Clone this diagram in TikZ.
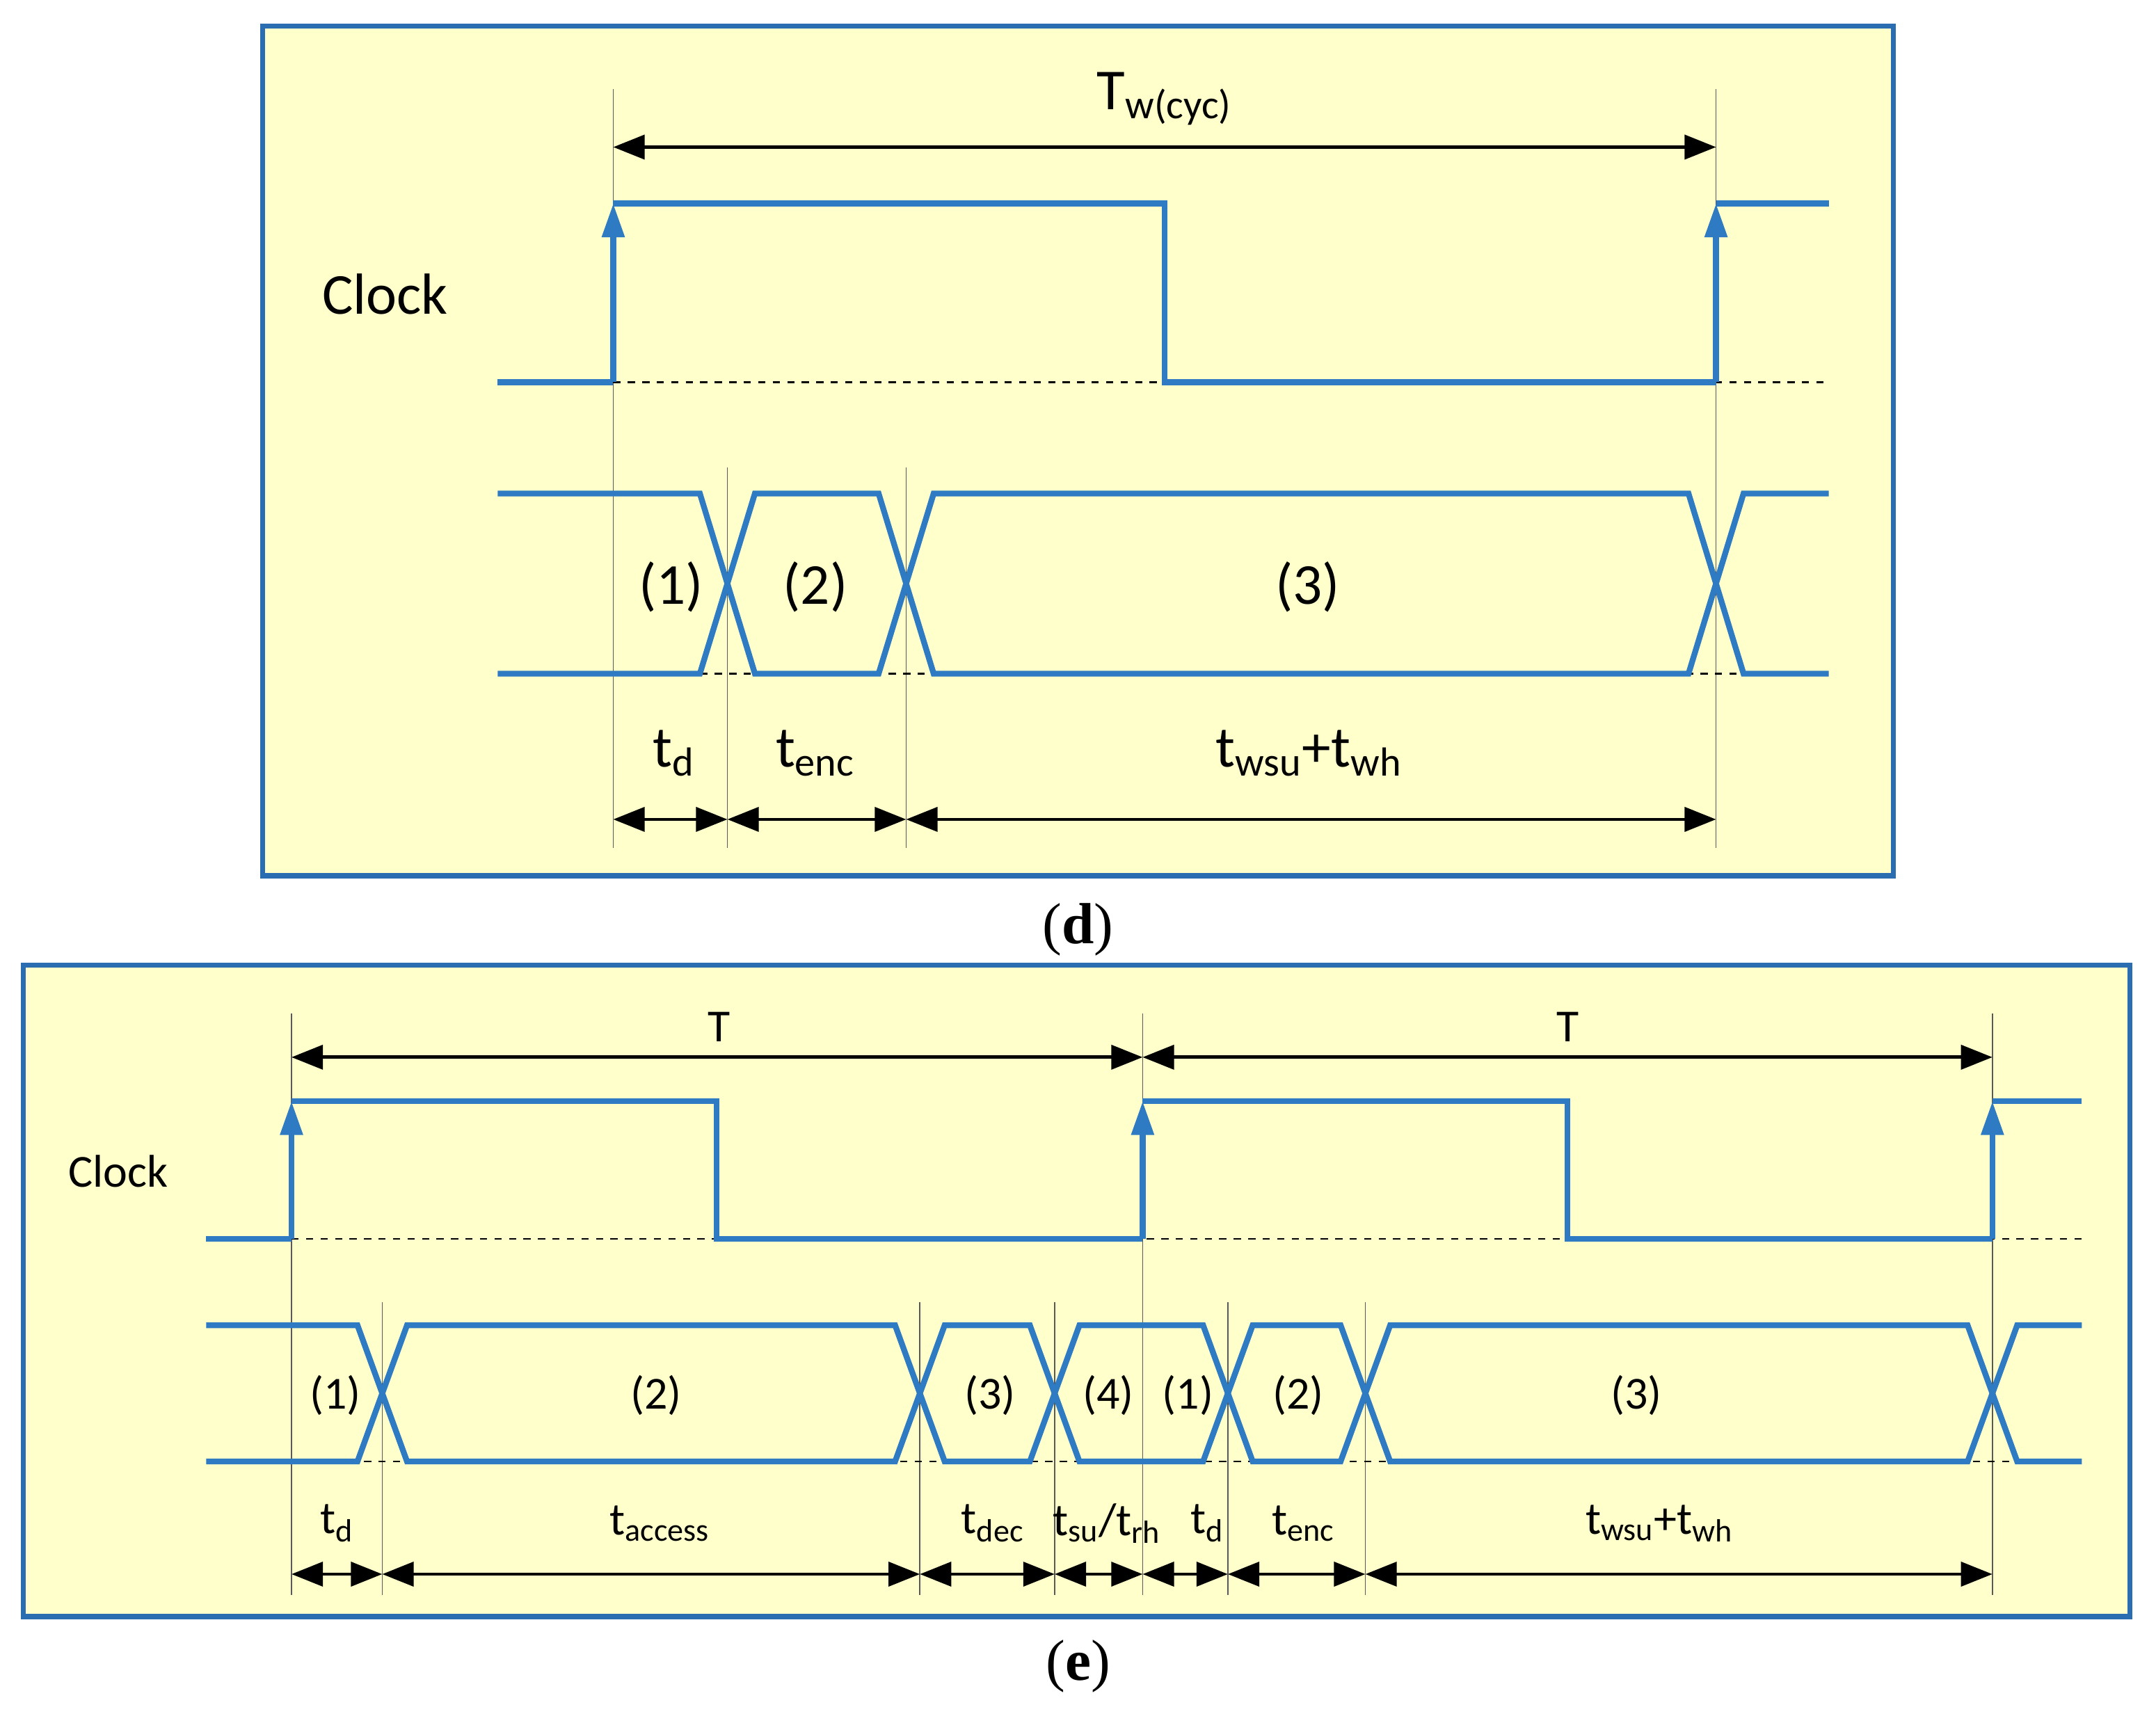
\documentclass[tikz,border=0pt]{standalone}
\usepackage{fontspec}
\setmainfont{Carlito}
\newfontfamily\capfont{Liberation Serif}
\usetikzlibrary{arrows.meta}
\definecolor{sig}{HTML}{2E7BC4}
\definecolor{frame}{HTML}{2A6DB0}
\definecolor{bg}{HTML}{FFFFCC}
\tikzset{
 panel/.style={draw=frame,line width=2.2pt,fill=bg},
 wave/.style={sig,line width=2.4pt,line join=miter},
 clkarrow/.style={sig,line width=2.4pt,-{Triangle[length=14pt,width=9pt]}},
 guide/.style={gray!70!black,line width=0.5pt},
 base/.style={black,dashed,line width=0.7pt},
 dim/.style={black,line width=1.4pt,{Triangle[length=13pt,width=10pt]}-{Triangle[length=13pt,width=10pt]}},
 lblD/.style={font=\fontsize{24}{26}\selectfont,inner sep=0pt},
 lblE/.style={font=\fontsize{19}{21}\selectfont,inner sep=0pt},
 captext/.style={font=\capfont\fontsize{24}{26}\selectfont,inner sep=0pt}
}
\begin{document}
\begin{tikzpicture}[x=0.02cm,y=-0.02cm]
\useasboundingbox (0,0) rectangle (1568,1253);
% ---------- panel d ----------
\draw[panel] (191,19) rectangle (1377,637);
\foreach \x in {446,1248} \draw[guide] (\x,65)--(\x,617);
\foreach \x in {529,659} \draw[guide] (\x,340)--(\x,617);
\draw[base] (446,278)--(1330,278);
\draw[base] (446,490)--(1330,490);
\node[lblD] (clkd) at (280,214) {Clock};
\draw[wave] (362,278)--(446,278);
\draw[clkarrow] (446,278)--(446,148);
\draw[wave] (446,148)--(847,148)--(847,278)--(1248,278);
\draw[clkarrow] (1248,278)--(1248,148);
\draw[wave] (1248,148)--(1330,148);
\draw[wave] (362,359)--(509,359)--(549,490)--(639,490)--(679,359)--(1228,359)--(1268,490)--(1330,490);
\draw[wave] (362,490)--(509,490)--(549,359)--(639,359)--(679,490)--(1228,490)--(1268,359)--(1330,359);
\node[lblD] (d1) at (488,427) {(1)};
\node[lblD] (d2) at (593,427) {(2)};
\node[lblD] (d3) at (951,427) {(3)};
\coordinate (dA) at (446,107); \coordinate (dB) at (1248,107);
\draw[dim] (dA)--(dB);
\node[lblD] (tw) at (847,72) {T\textsubscript{w(cyc)}};
\coordinate (p1) at (446,596); \coordinate (p2) at (529,596);
\coordinate (p3) at (659,596); \coordinate (p4) at (1248,596);
\draw[dim] (p1)--(p2); \draw[dim] (p2)--(p3); \draw[dim] (p3)--(p4);
\node[lblD] (dtd) at (490,548) {t\textsubscript{d}};
\node[lblD] (dtenc) at (593,548) {t\textsubscript{enc}};
\node[lblD] (dtw) at (952,548) {t\textsubscript{wsu}+t\textsubscript{wh}};
\node[captext] (capd) at (784,676) {(\textbf{d})};
% ---------- panel e ----------
\draw[panel] (17,702) rectangle (1549,1176);
\foreach \x in {212,831,1449} \draw[guide] (\x,737)--(\x,1160);
\foreach \x in {278,669,767,893,993} \draw[guide] (\x,947)--(\x,1160);
\draw[base] (212,901)--(1514,901);
\draw[base] (212,1063)--(1514,1063);
\node[lblE] (clke) at (86,852) {Clock};
\draw[wave] (150,901)--(212,901);
\draw[clkarrow] (212,901)--(212,801);
\draw[wave] (212,801)--(521,801)--(521,901)--(831,901);
\draw[clkarrow] (831,901)--(831,801);
\draw[wave] (831,801)--(1140,801)--(1140,901)--(1449,901);
\draw[clkarrow] (1449,901)--(1449,801);
\draw[wave] (1449,801)--(1514,801);
\draw[wave] (150,964)--(260,964)--(296,1063)--(651,1063)--(687,964)--(749,964)--(785,1063)--(875,1063)--(911,964)--(975,964)--(1011,1063)--(1431,1063)--(1467,964)--(1514,964);
\draw[wave] (150,1063)--(260,1063)--(296,964)--(651,964)--(687,1063)--(749,1063)--(785,964)--(875,964)--(911,1063)--(975,1063)--(1011,964)--(1431,964)--(1467,1063)--(1514,1063);
\node[lblE] (e1) at (244,1015) {(1)};
\node[lblE] (e2) at (477,1015) {(2)};
\node[lblE] (e3) at (720,1015) {(3)};
\node[lblE] (e4) at (806,1015) {(4)};
\node[lblE] (e5) at (864,1015) {(1)};
\node[lblE] (e6) at (944,1015) {(2)};
\node[lblE] (e7) at (1190,1015) {(3)};
\coordinate (tA) at (212,769); \coordinate (tB) at (831,769); \coordinate (tC) at (1449,769);
\draw[dim] (tA)--(tB); \draw[dim] (tB)--(tC);
\node[lblE] (T1) at (523,747) {T};
\node[lblE] (T2) at (1140,747) {T};
\foreach \a/\b [count=\i] in {212/278,278/669,669/767,767/831,831/893,893/993,993/1449}{
  \coordinate (q\i a) at (\a,1145); \coordinate (q\i b) at (\b,1145);
  \draw[dim] (q\i a)--(q\i b);}
\node[lblE] (etd) at (245,1108) {t\textsubscript{d}};
\node[lblE] (etacc) at (480,1108) {t\textsubscript{access}};
\node[lblE] (etdec) at (722,1108) {t\textsubscript{dec}};
\node[lblE] (etsu) at (805,1108) {t\textsubscript{su}/t\textsubscript{rh}};
\node[lblE] (etd2) at (878,1108) {t\textsubscript{d}};
\node[lblE] (etenc) at (948,1108) {t\textsubscript{enc}};
\node[lblE] (etw) at (1207,1108) {t\textsubscript{wsu}+t\textsubscript{wh}};
\node[captext] (cape) at (784,1212) {(\textbf{e})};
\end{tikzpicture}
\end{document}
